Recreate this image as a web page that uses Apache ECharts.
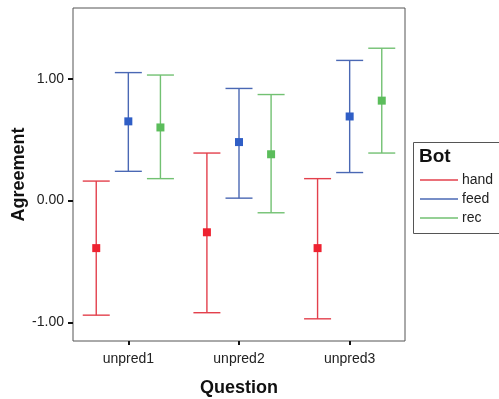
<!DOCTYPE html>
<html>
<head>
<meta charset="utf-8">
<script src="https://cdn.jsdelivr.net/npm/echarts@6/dist/echarts.min.js"></script>
<style>
  html, body { margin: 0; padding: 0; background: #fff; }
  #chart { width: 499px; height: 399px; }
</style>
</head>
<body>
<div id="chart"></div>
<script>
// categories and groups
const questions = ['unpred1', 'unpred2', 'unpred3'];
const bots = ['hand', 'feed', 'rec'];
const yTicks = [-1, 0, 1];

// mean, lower and upper ends of each error bar (per question)
const handMean = [-0.39, -0.26, -0.39];
const handLow = [-0.94, -0.92, -0.97];
const handHigh = [0.16, 0.39, 0.18];

const feedMean = [0.65, 0.48, 0.69];
const feedLow = [0.24, 0.02, 0.23];
const feedHigh = [1.05, 0.92, 1.15];

const recMean = [0.60, 0.38, 0.82];
const recLow = [0.18, -0.10, 0.39];
const recHigh = [1.03, 0.87, 1.25];

const lineColors = ['#e3404c', '#4a68b4', '#72c172'];
const markColors = ['#ee2230', '#2f5ec6', '#5bbd5b'];
const offsets = [-0.29, 0, 0.29]; // fraction of category band

function toData(mean, low, high) {
  return questions.map((q, i) => [i, mean[i], low[i], high[i]]);
}

function makeSeries(k, mean, low, high) {
  return {
    type: 'custom',
    name: bots[k],
    itemStyle: { color: lineColors[k] },
    encode: { x: 0, y: 1 },
    data: toData(mean, low, high),
    renderItem: function (params, api) {
      const idx = api.value(0);
      const band = api.size([1, 0])[0];
      const pMean = api.coord([idx, api.value(1)]);
      const pLow = api.coord([idx, api.value(2)]);
      const pHigh = api.coord([idx, api.value(3)]);
      const cx = pMean[0] + offsets[k] * band;
      const half = 13.5;
      const lineStyle = { stroke: lineColors[k], lineWidth: 1.4 };
      return {
        type: 'group',
        children: [
          { type: 'line', shape: { x1: cx, y1: pLow[1], x2: cx, y2: pHigh[1] }, style: lineStyle },
          { type: 'line', shape: { x1: cx - half, y1: pLow[1], x2: cx + half, y2: pLow[1] }, style: lineStyle },
          { type: 'line', shape: { x1: cx - half, y1: pHigh[1], x2: cx + half, y2: pHigh[1] }, style: lineStyle },
          { type: 'rect', shape: { x: cx - 4, y: pMean[1] - 4, width: 8, height: 8 }, style: { fill: markColors[k] } },
        ],
      };
    },
  };
}

const myChart = echarts.init(document.getElementById('chart'));
const option = {
  animation: false,
  grid: {
    left: 73,
    right: 94,
    top: 8,
    bottom: 58,
    outerBoundsMode: 'none',
    show: true,
    borderColor: '#555',
    borderWidth: 1,
  },
  xAxis: {
    type: 'category',
    data: questions,
    name: 'Question',
    nameLocation: 'middle',
    nameGap: 38,
    nameTextStyle: { fontFamily: 'Liberation Sans', fontWeight: 'bold', fontSize: 18, color: '#111' },
    axisLine: { show: false, onZero: false },
    axisTick: { show: true, alignWithLabel: true, length: 4, lineStyle: { color: '#111', width: 2 } },
    axisLabel: { fontFamily: 'Liberation Sans', fontSize: 14, color: '#222', margin: 11 },
  },
  yAxis: {
    type: 'value',
    min: -1.152,
    max: 1.58,
    name: 'Agreement',
    nameLocation: 'middle',
    nameGap: 45,
    nameMoveOverlap: false,
    nameTextStyle: { fontFamily: 'Liberation Sans', fontWeight: 'bold', fontSize: 18, color: '#111' },
    axisLine: { show: false, onZero: false },
    splitLine: { show: false },
    axisTick: { show: true, length: 5, customValues: yTicks, lineStyle: { color: '#111', width: 2 } },
    axisLabel: {
      fontFamily: 'Liberation Sans',
      fontSize: 14,
      color: '#222',
      margin: 9,
      customValues: yTicks,
      formatter: (v) => v.toFixed(2),
    },
  },
  legend: {
    orient: 'vertical',
    left: 415,
    top: 168,
    data: bots,
    icon: 'rect',
    itemWidth: 38,
    itemHeight: 1.4,
    itemGap: 5,
    textStyle: { fontFamily: 'Liberation Sans', fontSize: 14, color: '#222', padding: [0, 0, 0, -1] },
  },
  graphic: [
    {
      type: 'rect',
      left: 411,
      top: 140,
      shape: { width: 87, height: 91 },
      style: { fill: 'none', stroke: '#555', lineWidth: 1 },
    },
    {
      type: 'text',
      left: 419,
      top: 147,
      style: { text: 'Bot', font: 'bold 19px "Liberation Sans"', fill: '#111' },
    },
  ],
  series: [
    makeSeries(0, handMean, handLow, handHigh),
    makeSeries(1, feedMean, feedLow, feedHigh),
    makeSeries(2, recMean, recLow, recHigh),
  ],
};
myChart.setOption(option, true);
</script>
</body>
</html>
